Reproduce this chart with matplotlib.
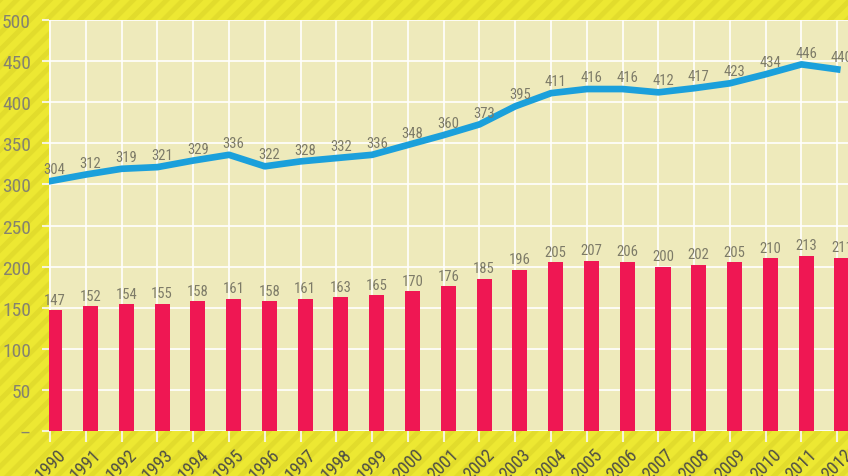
import matplotlib.pyplot as plt
import matplotlib.patches as mpatches

years = list(range(1990, 2013))
bar_values = [147, 152, 154, 155, 158, 161, 158, 161, 163, 165, 170, 176, 185,
              196, 205, 207, 206, 200, 202, 205, 210, 213, 211]
line_values = [304, 312, 319, 321, 329, 336, 322, 328, 332, 336, 348, 360, 373,
               395, 411, 416, 416, 412, 417, 423, 434, 446, 440]
y_ticks = [0, 50, 100, 150, 200, 250, 300, 350, 400, 450, 500]
y_tick_labels = ["–", "50", "100", "150", "200", "250", "300", "350", "400", "450", "500"]

plt.rcParams['font.family'] = ['Roboto Condensed', 'DejaVu Sans']
plt.rcParams['hatch.linewidth'] = 3.5
plt.rcParams['hatch.color'] = '#e2dc2c'

fig = plt.figure(figsize=(8.48, 4.77), dpi=100)
fig.patch.set_facecolor('#ede832')

# striped background
bg = mpatches.Rectangle((0, 0), 1, 1, transform=fig.transFigure, facecolor='#ede832',
                        edgecolor='#e2dc2c', hatch='//', linewidth=0, zorder=-10)
fig.patches.append(bg)

ax = fig.add_axes([0.0578, 0.0943, 0.9422, 0.8617])
ax.set_facecolor('#eeeabb')

x = list(range(len(years)))
bx = [i + 0.13 for i in x]

ax.bar(bx, bar_values, width=0.42, color='#ef1753', zorder=3)
ax.plot(x, line_values, color='#1ba0db', linewidth=4.8, zorder=4)

for xi, v in zip(bx, bar_values):
    ax.annotate(str(v), (xi, v), xytext=(0, 2.5), textcoords='offset points',
                ha='center', va='bottom', fontsize=10.5, color='#7d7b68', zorder=5)
for xi, v in zip(bx, line_values):
    ax.annotate(str(v), (xi, v), xytext=(0, 3.5), textcoords='offset points',
                ha='center', va='bottom', fontsize=10.5, color='#7d7b68', zorder=5)

ax.set_xlim(-0.03, 22.3)
ax.set_ylim(0, 500)
ax.set_xticks(x)
ax.set_xticklabels([str(y) for y in years], rotation=45, ha='center',
                   fontsize=13, color='#4f4f45')
ax.set_yticks(y_ticks)
ax.set_yticklabels(y_tick_labels, fontsize=14, color='#85836f')

ax.grid(True, color='white', linewidth=1.2, zorder=1)
ax.set_axisbelow(True)
ax.tick_params(axis='both', color='#f6f4d8', width=1.5)
ax.tick_params(axis='x', length=8, pad=2)
ax.tick_params(axis='y', length=5, pad=8)

for s in ax.spines.values():
    s.set_visible(False)

fig.savefig('out.png', dpi=100, facecolor=fig.get_facecolor())
